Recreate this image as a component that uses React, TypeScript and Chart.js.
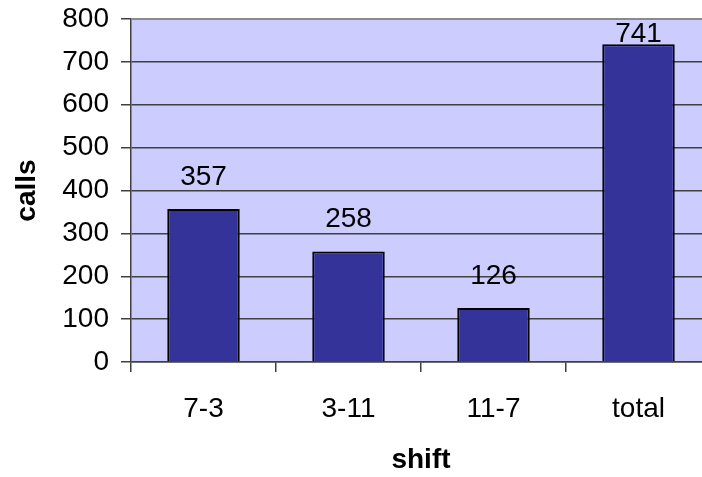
import React, { useEffect, useRef } from "react";
import { Chart, registerables } from "chart.js";

Chart.register(...registerables);

const categories = ["7-3", "3-11", "11-7", "total"];
const calls = [357, 258, 126, 741];
const yTicks = [0, 100, 200, 300, 400, 500, 600, 700, 800];

const FONT = "'Liberation Sans', Arial, sans-serif";

const plotBg = {
  id: "plotBg",
  beforeDraw(chart: any) {
    const { ctx, chartArea } = chart;
    ctx.save();
    ctx.fillStyle = "#CCCCFF";
    ctx.fillRect(chartArea.left, chartArea.top, chartArea.right - chartArea.left, chartArea.bottom - chartArea.top);
    ctx.restore();
  },
  afterDraw(chart: any) {
    const { ctx, chartArea } = chart;
    ctx.save();
    ctx.strokeStyle = "#8a8a8a";
    ctx.lineWidth = 2;
    ctx.beginPath();
    ctx.moveTo(chartArea.left, chartArea.top);
    ctx.lineTo(chartArea.right, chartArea.top);
    ctx.stroke();
    ctx.restore();
  },
};

const valueLabels = {
  id: "valueLabels",
  afterDatasetsDraw(chart: any) {
    const { ctx, chartArea } = chart;
    const meta = chart.getDatasetMeta(0);
    const data = chart.data.datasets[0].data;
    ctx.save();
    ctx.font = `28px ${FONT}`;
    ctx.fillStyle = "#000";
    ctx.textAlign = "center";
    ctx.textBaseline = "alphabetic";
    meta.data.forEach((el: any, i: number) => {
      const y = Math.max(el.y - 24, chartArea.top + 23);
      ctx.fillText(String(data[i]), el.x, y);
    });
    ctx.restore();
  },
};

export default function App() {
  const ref = useRef<HTMLCanvasElement>(null);
  useEffect(() => {
    if (!ref.current) return;
    const chart = new Chart(ref.current, {
      type: "bar",
      data: {
        labels: categories,
        datasets: [
          {
            data: calls,
            backgroundColor: "#333399",
            borderColor: "#000",
            borderWidth: 2,
            barPercentage: 0.5,
            categoryPercentage: 1,
          },
        ],
      },
      options: {
        animation: false,
        responsive: false,
        layout: { padding: { top: 19, right: 1, left: 0, bottom: 0 } },
        plugins: { legend: { display: false }, tooltip: { enabled: false } },
        scales: {
          x: {
            afterFit(scale: any) {
              scale.height = 115;
              scale.paddingLeft = 0;
              scale.paddingRight = 0;
            },
            grid: {
              offset: true,
              drawOnChartArea: false,
              drawTicks: true,
              tickLength: 10,
              color: "#404040",
              lineWidth: 1.5,
            },
            border: { display: true, color: "#404040", width: 1.5 },
            ticks: { color: "#000", font: { family: FONT, size: 28 }, padding: 20, maxRotation: 0 },
            title: {
              display: true,
              text: "shift",
              color: "#000",
              font: { family: FONT, size: 28, weight: "bold" },
              padding: { top: 0, bottom: 0 },
            },
          },
          y: {
            min: 0,
            max: 800,
            afterFit(scale: any) {
              scale.width = 131;
              scale.paddingTop = 0;
              scale.paddingBottom = 0;
            },
            afterBuildTicks(scale: any) {
              scale.ticks = yTicks.map((v) => ({ value: v }));
            },
            grid: { color: "#404040", lineWidth: 1.5, tickLength: 10 },
            border: { display: true, color: "#404040", width: 1.5 },
            ticks: { color: "#000", font: { family: FONT, size: 28 }, padding: 12, stepSize: 100 },
            title: {
              display: true,
              text: "calls",
              color: "#000",
              font: { family: FONT, size: 28, weight: "bold" },
              padding: { top: 10, bottom: 0 },
            },
          },
        },
      },
      plugins: [plotBg, valueLabels],
    });
    return () => chart.destroy();
  }, []);
  return (
    <div style={{ position: "fixed", left: 0, top: 0, width: 702, height: 477, overflow: "hidden", background: "#fff" }}>
      <canvas ref={ref} width={712} height={477} style={{ width: 712, height: 477, display: "block" }} />
    </div>
  );
}
